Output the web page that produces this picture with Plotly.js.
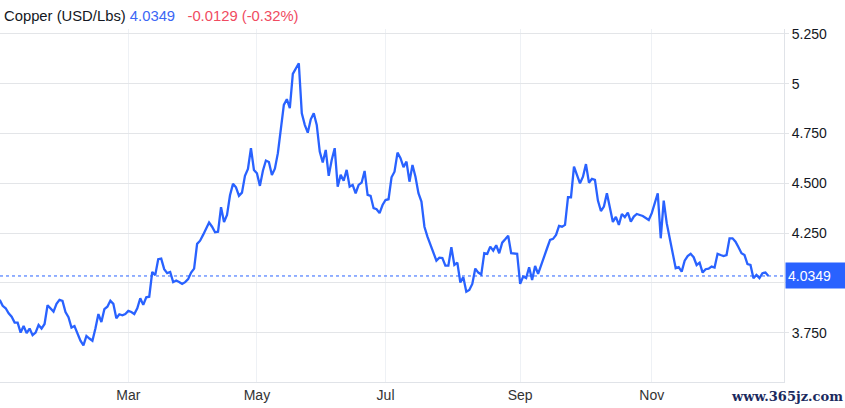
<!DOCTYPE html>
<html>
<head>
<meta charset="utf-8">
<script src="https://cdn.plot.ly/plotly-3.0.1.min.js"></script>
<style>
  html, body { margin: 0; padding: 0; background: #ffffff; }
  #chart { width: 845px; height: 408px; }
</style>
</head>
<body>
<div id="chart"></div>
<script>
// ---- Data ----
const seriesName = "Copper (USD/Lbs)";
const lastPrice = 4.0349;
const priceChange = -0.0129;
const pctChange = -0.32;

const dates = [
"2024-01-02","2024-01-03","2024-01-04","2024-01-05",
"2024-01-08","2024-01-09","2024-01-10","2024-01-11","2024-01-12",
"2024-01-15","2024-01-16","2024-01-17","2024-01-18","2024-01-19",
"2024-01-22","2024-01-23","2024-01-24","2024-01-25","2024-01-26",
"2024-01-29","2024-01-30","2024-01-31","2024-02-01","2024-02-02",
"2024-02-05","2024-02-06","2024-02-07","2024-02-08","2024-02-09",
"2024-02-12","2024-02-13","2024-02-14","2024-02-15","2024-02-16",
"2024-02-19","2024-02-20","2024-02-21","2024-02-22","2024-02-23",
"2024-02-26","2024-02-27","2024-02-28","2024-02-29","2024-03-01",
"2024-03-04","2024-03-05","2024-03-06","2024-03-07","2024-03-08",
"2024-03-11","2024-03-12","2024-03-13","2024-03-14","2024-03-15",
"2024-03-18","2024-03-19","2024-03-20","2024-03-21","2024-03-22",
"2024-03-25","2024-03-26","2024-03-27","2024-03-28","2024-03-29",
"2024-04-01","2024-04-02","2024-04-03","2024-04-04","2024-04-05",
"2024-04-08","2024-04-09","2024-04-10","2024-04-11","2024-04-12",
"2024-04-15","2024-04-16","2024-04-17","2024-04-18","2024-04-19",
"2024-04-22","2024-04-23","2024-04-24","2024-04-25","2024-04-26",
"2024-04-29","2024-04-30","2024-05-01","2024-05-02","2024-05-03",
"2024-05-06","2024-05-07","2024-05-08","2024-05-09","2024-05-10",
"2024-05-13","2024-05-14","2024-05-15","2024-05-16","2024-05-17",
"2024-05-20","2024-05-21","2024-05-22","2024-05-23","2024-05-24",
"2024-05-27","2024-05-28","2024-05-29","2024-05-30","2024-05-31",
"2024-06-03","2024-06-04","2024-06-05","2024-06-06","2024-06-07",
"2024-06-10","2024-06-11","2024-06-12","2024-06-13","2024-06-14",
"2024-06-17","2024-06-18","2024-06-19","2024-06-20","2024-06-21",
"2024-06-24","2024-06-25","2024-06-26","2024-06-27","2024-06-28",
"2024-07-01","2024-07-02","2024-07-03","2024-07-04","2024-07-05",
"2024-07-08","2024-07-09","2024-07-10","2024-07-11","2024-07-12",
"2024-07-15","2024-07-16","2024-07-17","2024-07-18","2024-07-19",
"2024-07-22","2024-07-23","2024-07-24","2024-07-25","2024-07-26",
"2024-07-29","2024-07-30","2024-07-31","2024-08-01","2024-08-02",
"2024-08-05","2024-08-06","2024-08-07","2024-08-08","2024-08-09",
"2024-08-12","2024-08-13","2024-08-14","2024-08-15","2024-08-16",
"2024-08-19","2024-08-20","2024-08-21","2024-08-22","2024-08-23",
"2024-08-26","2024-08-27","2024-08-28","2024-08-29","2024-08-30",
"2024-09-02","2024-09-03","2024-09-04","2024-09-05","2024-09-06",
"2024-09-09","2024-09-10","2024-09-11","2024-09-12","2024-09-13",
"2024-09-16","2024-09-17","2024-09-18","2024-09-19","2024-09-20",
"2024-09-23","2024-09-24","2024-09-25","2024-09-26","2024-09-27",
"2024-09-30","2024-10-01","2024-10-02","2024-10-03","2024-10-04",
"2024-10-07","2024-10-08","2024-10-09","2024-10-10","2024-10-11",
"2024-10-14","2024-10-15","2024-10-16","2024-10-17","2024-10-18",
"2024-10-21","2024-10-22","2024-10-23","2024-10-24","2024-10-25",
"2024-10-28","2024-10-29","2024-10-30","2024-10-31","2024-11-01",
"2024-11-04","2024-11-05","2024-11-06","2024-11-07","2024-11-08",
"2024-11-11","2024-11-12","2024-11-13","2024-11-14","2024-11-15",
"2024-11-18","2024-11-19","2024-11-20","2024-11-21","2024-11-22",
"2024-11-25","2024-11-26","2024-11-27","2024-11-28","2024-11-29",
"2024-12-02","2024-12-03","2024-12-04","2024-12-05","2024-12-06",
"2024-12-09","2024-12-10","2024-12-11","2024-12-12","2024-12-13",
"2024-12-16","2024-12-17","2024-12-18","2024-12-19","2024-12-20",
"2024-12-23","2024-12-24","2024-12-25","2024-12-26"
];

const prices = [
3.915,3.885,3.873,3.848,
3.831,3.801,3.801,3.751,3.784,
3.748,3.771,3.738,3.751,3.789,
3.771,3.794,3.888,3.873,3.856,
3.895,3.915,3.910,3.854,3.828,
3.776,3.784,3.744,3.710,3.687,
3.734,3.721,3.710,3.771,3.844,
3.804,3.868,3.881,3.911,3.895,
3.823,3.843,3.838,3.844,3.860,
3.854,3.844,3.873,3.923,3.890,
3.928,3.931,4.055,4.039,4.119,
4.122,4.069,4.049,4.055,4.004,
4.012,4.005,3.995,4.004,4.019,
4.052,4.072,4.196,4.212,4.241,
4.274,4.303,4.282,4.254,4.257,
4.380,4.306,4.341,4.440,4.497,
4.480,4.437,4.453,4.537,4.572,
4.676,4.567,4.550,4.487,4.563,
4.614,4.607,4.542,4.573,4.651,
4.759,4.893,4.922,4.877,5.049,
5.079,5.102,4.851,4.793,4.754,
4.821,4.851,4.793,4.659,4.604,
4.667,4.537,4.617,4.676,4.483,
4.542,4.513,4.567,4.483,4.492,
4.450,4.492,4.503,4.562,4.442,
4.437,4.375,4.370,4.350,4.391,
4.416,4.420,4.530,4.558,4.654,
4.626,4.581,4.609,4.508,4.592,
4.533,4.450,4.408,4.282,4.232,
4.191,4.149,4.112,4.127,4.125,
4.087,4.087,4.179,4.090,4.102,
4.002,4.029,3.956,3.965,3.995,
4.072,4.052,4.042,4.149,4.146,
4.182,4.162,4.189,4.149,4.202,
4.219,4.237,4.149,4.146,4.146,
3.995,4.032,4.024,4.079,4.015,
4.085,4.045,4.085,4.132,4.174,
4.216,4.221,4.241,4.286,4.282,
4.291,4.430,4.430,4.584,4.542,
4.500,4.533,4.596,4.503,4.522,
4.517,4.413,4.361,4.383,4.450,
4.383,4.306,4.331,4.291,4.346,
4.330,4.353,4.308,4.333,4.346,
4.341,4.336,4.326,4.316,4.350,
4.403,4.450,4.224,4.413,4.300,
4.224,4.140,4.074,4.079,4.057,
4.112,4.135,4.146,4.129,4.090,
4.102,4.052,4.069,4.072,4.082,
4.077,4.146,4.140,4.135,4.140,
4.224,4.224,4.207,4.179,4.149,
4.140,4.095,4.090,4.024,4.040,
4.024,4.049,4.052,4.0349
];

const yTickVals = [3.75, 4.0, 4.25, 4.5, 4.75, 5.0, 5.25];
const yTickText = ["3.750", "", "4.250", "4.500", "4.750", "5", "5.250"];
const xTickVals = ["2024-03-01", "2024-05-01", "2024-07-01", "2024-09-02", "2024-11-01"];
const xTickText = ["Mar", "May", "Jul", "Sep", "Nov"];

// ---- Styles ----
const BLUE = "#2962ff";
const RED = "#f04b5f";
const FONT = "Liberation Sans, Arial, sans-serif";

const trace = {
  type: "scatter",
  mode: "lines",
  x: dates,
  y: prices,
  line: { color: BLUE, width: 2.3 },
  hoverinfo: "skip"
};

const titleHtml =
  '<span style="color:#131722">' + seriesName + '</span> ' +
  '<span style="color:#3b66f5">' + lastPrice.toFixed(4) + '</span>&nbsp;&nbsp;&nbsp;' +
  '<span style="color:' + RED + '">' + priceChange.toFixed(4) + ' (' + pctChange.toFixed(2) + '%)</span>';

const layout = {
  width: 845,
  height: 408,
  margin: { l: 0, r: 61, t: 29, b: 26, pad: 0 },
  paper_bgcolor: "#ffffff",
  plot_bgcolor: "#ffffff",
  showlegend: false,
  hovermode: false,
  font: { family: FONT, size: 14, color: "#131722" },
  title: {
    text: titleHtml,
    font: { family: FONT, size: 14.8 },
    xref: "container", x: 4 / 845, xanchor: "left",
    yref: "container", y: 1 - 16 / 408, yanchor: "middle"
  },
  xaxis: {
    type: "date",
    range: ["2024-01-02 02:30", "2025-01-02 05:00"],
    rangebreaks: [{ bounds: ["sat", "mon"] }],
    tickmode: "array",
    tickvals: xTickVals,
    ticktext: xTickText,
    showgrid: true,
    gridcolor: "#eef1f5",
    gridwidth: 1,
    zeroline: false,
    showline: true,
    linecolor: "#e0e3e8",
    linewidth: 1,
    ticks: "",
    tickfont: { family: FONT, size: 14, color: "#333333" },
    fixedrange: true
  },
  yaxis: {
    side: "right",
    range: [3.503, 5.274],
    tickmode: "array",
    tickvals: yTickVals,
    ticktext: yTickText,
    showgrid: true,
    gridcolor: "#e3e5e8",
    gridwidth: 1,
    zeroline: false,
    showline: true,
    linecolor: "#e0e3e8",
    linewidth: 1,
    ticks: "outside",
    ticklen: 4,
    tickcolor: "#e3e5e8",
    tickfont: { family: FONT, size: 14, color: "#131722" },
    fixedrange: true
  },
  shapes: [
    {
      type: "line", xref: "paper", x0: 0, x1: 1,
      yref: "y", y0: lastPrice, y1: lastPrice,
      line: { color: BLUE, width: 1, dash: "dot" }
    }
  ],
  annotations: [
    {
      xref: "paper", x: 1, xanchor: "left", xshift: 1,
      yref: "y", y: lastPrice, yanchor: "middle",
      text: lastPrice.toFixed(4),
      showarrow: false,
      bgcolor: BLUE,
      font: { family: FONT, size: 14, color: "#ffffff" },
      width: 56, height: 21, borderpad: 2, align: "left"
    },
    {
      xref: "paper", x: 1, xanchor: "right", xshift: 61,
      yref: "paper", y: 0, yanchor: "top", yshift: -5,
      text: "<b>www.365jz.com</b>",
      showarrow: false,
      font: { family: "DejaVu Serif, serif", size: 13, color: "#1b2a5e" }
    }
  ]
};

Plotly.newPlot("chart", [trace], layout, { displayModeBar: false, staticPlot: true });
</script>
</body>
</html>
